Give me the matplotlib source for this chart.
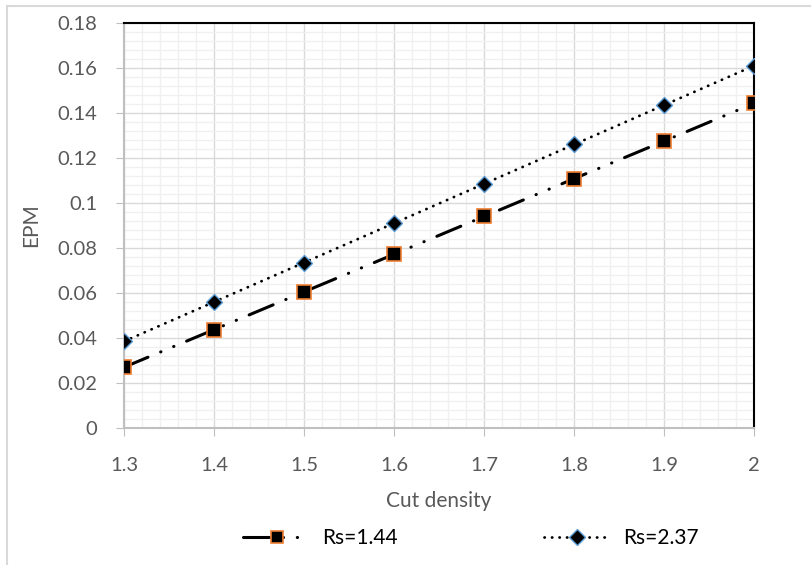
import matplotlib.pyplot as plt
from matplotlib.lines import Line2D
from matplotlib.ticker import MultipleLocator
import numpy as np

# Cut density vs EPM for two Rs values
cut_density = [1.3, 1.4, 1.5, 1.6, 1.7, 1.8, 1.9, 2.0]
epm_rs144 = [0.0270, 0.0437, 0.0605, 0.0772, 0.0940, 0.1108, 0.1275, 0.1443]
epm_rs237 = [0.0385, 0.0560, 0.0735, 0.0910, 0.1085, 0.1260, 0.1435, 0.1610]

plt.rcParams['font.family'] = ['Lato', 'DejaVu Sans']
txt = '#595959'

fig = plt.figure(figsize=(8.12, 5.65), dpi=100)
ax = fig.add_axes([0.1527, 0.2425, 0.7759, 0.7168])

ax.plot(cut_density, epm_rs144, color='k', lw=2.2,
        linestyle=(0, (8.5, 4.5, 0.1, 4.5, 0.1, 4.5)), dash_capstyle='round',
        marker='s', ms=10, mfc='k', mec='#ED7D31', mew=1.2,
        label='Rs=1.44', zorder=3)
ax.plot(cut_density, epm_rs237, color='k', lw=2.0,
        linestyle=(0, (0.1, 2.6)), dash_capstyle='round',
        marker='D', ms=8.5, mfc='k', mec='#5B9BD5', mew=1.0,
        label='Rs=2.37', zorder=4)

ax.set_xlim(1.3, 2.0)
ax.set_ylim(0, 0.18)
ax.xaxis.set_minor_locator(MultipleLocator(0.02))
ax.yaxis.set_minor_locator(MultipleLocator(0.004))
ax.set_xticks(np.arange(1.3, 2.01, 0.1))
ax.set_xticklabels(['1.3', '1.4', '1.5', '1.6', '1.7', '1.8', '1.9', '2'])
ax.set_yticks(np.arange(0, 0.181, 0.02))
ax.set_yticklabels(['0', '0.02', '0.04', '0.06', '0.08', '0.1',
                    '0.12', '0.14', '0.16', '0.18'])

ax.grid(which='major', color='#d9d9d9', lw=1.0)
ax.grid(which='minor', color='#f0f0f0', lw=1.0)
ax.set_axisbelow(True)

for s in ['top', 'right']:
    ax.spines[s].set_color('k')
    ax.spines[s].set_linewidth(1.5)
for s in ['left', 'bottom']:
    ax.spines[s].set_color('#bfbfbf')
    ax.spines[s].set_linewidth(1.5)

ax.tick_params(which='major', length=6, color='#bfbfbf', labelsize=14.5,
               labelcolor=txt)
ax.tick_params(axis='x', pad=15)
ax.tick_params(axis='y', pad=13)
ax.tick_params(which='minor', length=0)

ax.set_xlabel('Cut density', fontsize=15, color=txt, labelpad=12)
ax.set_ylabel('EPM', fontsize=15, color=txt, labelpad=12)

fig.legend(loc='center', bbox_to_anchor=(0.58, 0.048), ncol=2, frameon=False,
           fontsize=15, labelcolor='k', handlelength=3.2, columnspacing=7,
           handletextpad=0.6, markerscale=0.9)

# chart area border
fig.add_artist(Line2D([7 / 812, 7 / 812], [0, 1 - 6 / 565],
                      transform=fig.transFigure, color='#d9d9d9', lw=1.5))
fig.add_artist(Line2D([7 / 812, 1], [1 - 6 / 565, 1 - 6 / 565],
                      transform=fig.transFigure, color='#d9d9d9', lw=1.5))

fig.savefig('out.png', dpi=100)
